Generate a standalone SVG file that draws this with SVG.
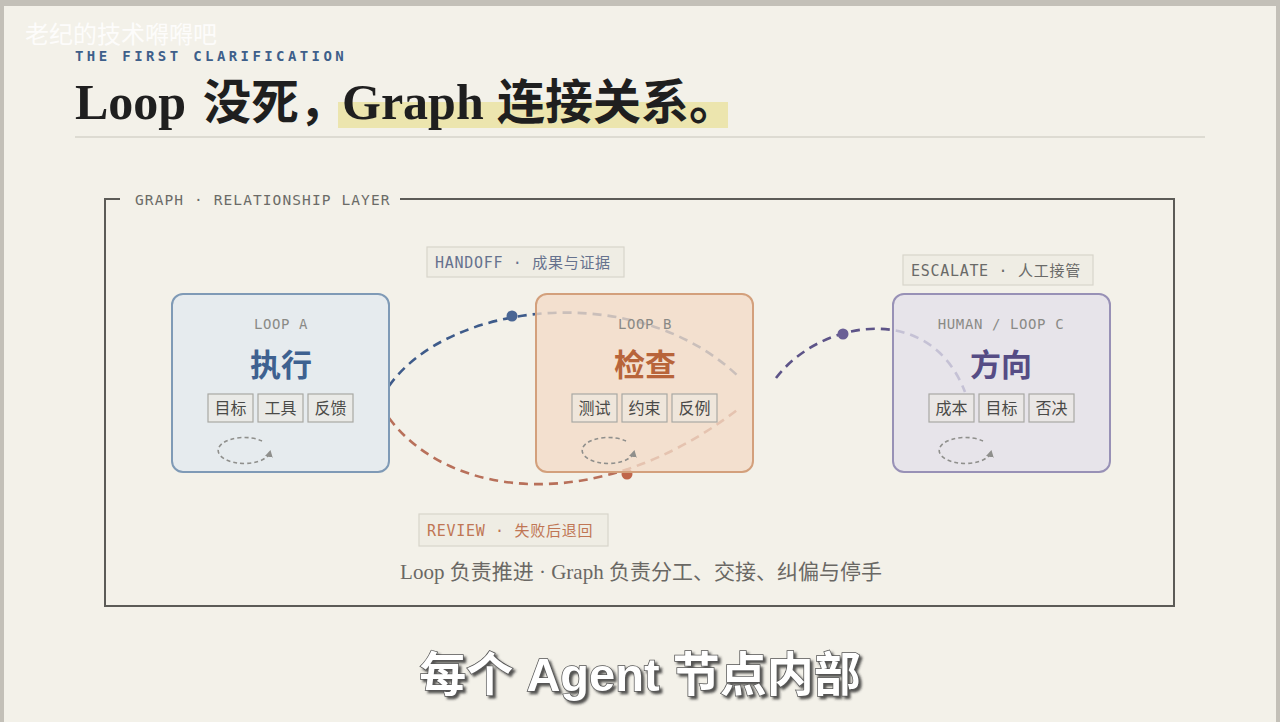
<svg xmlns="http://www.w3.org/2000/svg" width="1280" height="722" viewBox="0 0 1280 722">
<style>
.mono{font-family:"DejaVu Sans Mono","Liberation Mono","Noto Sans CJK SC",monospace}
.cjk{font-family:"Noto Sans CJK SC","Noto Sans",sans-serif}
.serif{font-family:"Liberation Serif","Noto Sans CJK SC",serif}
.node{stroke-width:2;fill-opacity:0.78}
.kicker{font-size:14px;fill:#8a8a86;letter-spacing:0.6px}
.big{font-size:31px;font-weight:700}
.tag rect{fill:#ece9e2;fill-opacity:0.6;stroke:#a8a8a4;stroke-width:1.2}
.tag text{font-size:16px;fill:#4a4a48}
.loop{fill:none;stroke:#8f8f8c;stroke-width:1.6;stroke-dasharray:4 3}
.edge{fill:none;stroke-width:2.6;stroke-dasharray:9 6}
.lbl rect{fill:#efede4;stroke:#d8d5cb;stroke-width:1.2}
.lbl text{font-size:15px;letter-spacing:0.7px}
</style>
<defs>
<marker id="la" markerWidth="8" markerHeight="8" refX="5" refY="4" orient="auto" markerUnits="userSpaceOnUse">
<path d="M0,0 L7,4 L0,8 Z" fill="#8f8f8c"/>
</marker>
<filter id="sh" x="-5%" y="-20%" width="110%" height="150%">
<feDropShadow dx="2.5" dy="2.5" stdDeviation="1.2" flood-color="#2a2a2a" flood-opacity="0.8"/>
</filter>
</defs>
<rect x="0" y="0" width="1280" height="722" fill="#c3c0b8"/>
<rect x="4" y="6" width="1272" height="716" fill="#f3f1e9"/>

<text x="25" y="43" class="cjk" font-size="24" fill="#ffffff" fill-opacity="0.85">老纪的技术嘚嘚吧</text>
<text x="75" y="61" class="mono" font-size="14" font-weight="700" fill="#3e5f8a" letter-spacing="3.4">THE FIRST CLARIFICATION</text>

<rect x="338" y="102" width="390" height="26" fill="#e9e09a" fill-opacity="0.75"/>
<text y="119" class="serif" font-size="50" font-weight="700" fill="#1f1f1f"><tspan x="75">Loop</tspan><tspan x="203" font-size="48">没死，</tspan><tspan x="342">Graph</tspan><tspan x="497" font-size="48">连接关系。</tspan></text>
<line x1="75" y1="137" x2="1205" y2="137" stroke="#d6d3ca" stroke-width="1.5"/>

<g id="frame">
<path d="M120,199 L105,199 L105,606 L1174,606 L1174,199 L400,199" fill="none" stroke="#5c5b57" stroke-width="2"/>
<text x="135" y="205" class="mono" font-size="14.5" fill="#6b6b67" letter-spacing="1.1">GRAPH · RELATIONSHIP LAYER</text>
</g>

<g id="connectors">
<path class="edge" stroke="#3e5b8a" d="M389,386 C450,300 640,280 740,378"/>
<circle cx="512" cy="316" r="5.5" fill="#4a6694"/>
<path class="edge" stroke="#b8705a" d="M389,418 C450,500 600,515 737,410"/>
<circle cx="627" cy="474" r="5.5" fill="#c0664a"/>
<path class="edge" stroke="#5d5488" d="M776,378 C820,320 930,300 965,392"/>
<circle cx="843" cy="334" r="5.5" fill="#6a5f96"/>
</g>

<g id="nodeA">
<rect class="node" x="172" y="294" width="217" height="178" rx="11" fill="#e2e9f0" stroke="#7f9ab6"/>
<text x="281" y="329" class="mono kicker" text-anchor="middle">LOOP A</text>
<text x="281" y="376" class="cjk big" text-anchor="middle" fill="#3e6190">执行</text>
<g class="tag"><rect x="208" y="394" width="45" height="28"/><text x="230.5" y="414" class="cjk" text-anchor="middle">目标</text></g>
<g class="tag"><rect x="258" y="394" width="45" height="28"/><text x="280.5" y="414" class="cjk" text-anchor="middle">工具</text></g>
<g class="tag"><rect x="308" y="394" width="45" height="28"/><text x="330.5" y="414" class="cjk" text-anchor="middle">反馈</text></g>
<path class="loop" d="M262,441 A26,13 0 1 0 270,452" marker-end="url(#la)"/>
</g>

<g id="nodeB">
<rect class="node" x="536" y="294" width="217" height="178" rx="11" fill="#f2dbc8" stroke="#d3a07c"/>
<text x="645" y="329" class="mono kicker" text-anchor="middle">LOOP B</text>
<text x="645" y="376" class="cjk big" text-anchor="middle" fill="#b8643a">检查</text>
<g class="tag"><rect x="572" y="394" width="45" height="28"/><text x="594.5" y="414" class="cjk" text-anchor="middle">测试</text></g>
<g class="tag"><rect x="622" y="394" width="45" height="28"/><text x="644.5" y="414" class="cjk" text-anchor="middle">约束</text></g>
<g class="tag"><rect x="672" y="394" width="45" height="28"/><text x="694.5" y="414" class="cjk" text-anchor="middle">反例</text></g>
<path class="loop" d="M626,441 A26,13 0 1 0 634,452" marker-end="url(#la)"/>
</g>

<g id="nodeC">
<rect class="node" x="893" y="294" width="217" height="178" rx="11" fill="#e3e0eb" stroke="#9891b6"/>
<text x="1001" y="329" class="mono kicker" text-anchor="middle">HUMAN / LOOP C</text>
<text x="1001" y="376" class="cjk big" text-anchor="middle" fill="#564c85">方向</text>
<g class="tag"><rect x="929" y="394" width="45" height="28"/><text x="951.5" y="414" class="cjk" text-anchor="middle">成本</text></g>
<g class="tag"><rect x="979" y="394" width="45" height="28"/><text x="1001.5" y="414" class="cjk" text-anchor="middle">目标</text></g>
<g class="tag"><rect x="1029" y="394" width="45" height="28"/><text x="1051.5" y="414" class="cjk" text-anchor="middle">否决</text></g>
<path class="loop" d="M983,441 A26,13 0 1 0 991,452" marker-end="url(#la)"/>
</g>

<g id="label-handoff" class="lbl">
<rect x="427" y="247" width="197" height="30"/>
<text x="435" y="268" class="mono" fill="#66728e">HANDOFF · 成果与证据</text>
</g>
<g id="label-escalate" class="lbl">
<rect x="903" y="255" width="190" height="30"/>
<text x="911" y="276" class="mono" fill="#6a6a68">ESCALATE · 人工接管</text>
</g>
<g id="label-review" class="lbl">
<rect x="419" y="514" width="189" height="32"/>
<text x="427" y="536" class="mono" fill="#c07654">REVIEW · 失败后退回</text>
</g>

<text x="641" y="579" class="serif" font-size="21" fill="#6a6864" text-anchor="middle">Loop 负责推进 · Graph 负责分工、交接、纠偏与停手</text>

<text id="subtitle" x="640" y="691" font-family="Liberation Sans,Noto Sans CJK SC,sans-serif" font-weight="700" font-size="47" text-anchor="middle" fill="#ffffff" stroke="#555555" stroke-width="1.5" paint-order="stroke" filter="url(#sh)">每个 Agent 节点内部</text>
</svg>
